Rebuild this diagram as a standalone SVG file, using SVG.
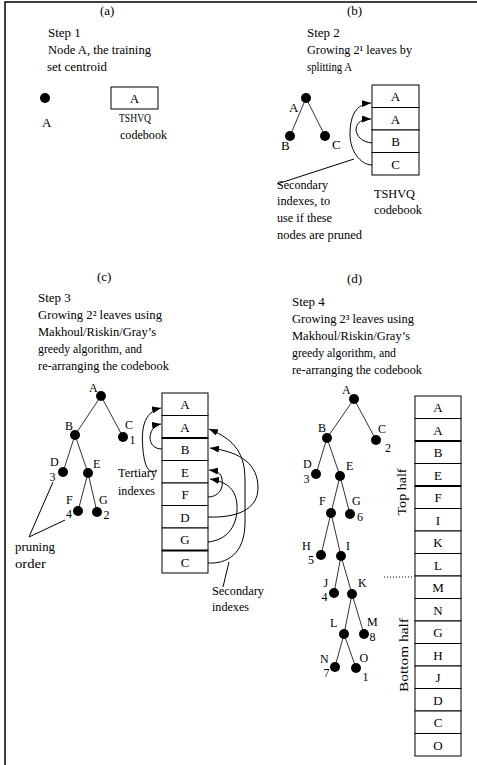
<svg xmlns="http://www.w3.org/2000/svg" width="477" height="765" viewBox="0 0 477 765">
<style>
.t{font-family:"Liberation Serif","Times New Roman",serif;font-size:13px;fill:#000}
.n{font-family:"Liberation Serif","Times New Roman",serif;font-size:12px;fill:#000}
.m{text-anchor:middle}
.e{stroke:#333;stroke-width:1;fill:none}
.d{fill:#000}
.cell{fill:#fff;stroke:#000;stroke-width:1}
.thick{stroke:#000;stroke-width:2.2}
.a{stroke:#000;stroke-width:1;fill:none;marker-end:url(#ah)}
.p{stroke:#000;stroke-width:1;fill:none}
</style>
<defs>
<marker id="ah" markerUnits="userSpaceOnUse" markerWidth="9" markerHeight="7" refX="9" refY="3.5" orient="auto">
<path d="M0,0 L9,3.5 L0,7 z" fill="#000"/>
</marker>
</defs>
<rect width="477" height="765" fill="#fff"/>
<g id="frame"><path d="M5,765 L5,2 L477,2" stroke="#000" stroke-width="1.5" fill="none"/></g>

<!-- (a) -->
<g id="panel-a-text">
<text class="t" x="100" y="15">(a)</text>
<text class="t" x="48" y="37">Step 1</text>
<text class="t" x="48" y="54" textLength="103" lengthAdjust="spacingAndGlyphs">Node A, the training</text>
<text class="t" x="47" y="71" textLength="60" lengthAdjust="spacingAndGlyphs">set centroid</text>
</g>
<g id="a-nodeA"><circle class="d" cx="45" cy="98" r="5"/><text class="t" x="42" y="127">A</text></g>
<g id="a-codebook">
<rect class="cell" x="111" y="87" width="47" height="22"/>
<text class="t m" x="134.5" y="102.5">A</text>
<text class="t" x="119" y="122" textLength="32" lengthAdjust="spacingAndGlyphs">TSHVQ</text>
<text class="t" x="120" y="139" textLength="47" lengthAdjust="spacingAndGlyphs">codebook</text>
</g>

<!-- (b) -->
<g id="panel-b-text">
<text class="t" x="347" y="15">(b)</text>
<text class="t" x="307" y="37">Step 2</text>
<text class="t" x="307" y="54" textLength="105" lengthAdjust="spacingAndGlyphs">Growing 2¹ leaves by</text>
<text class="t" x="307" y="71" textLength="45" lengthAdjust="spacingAndGlyphs">splitting A</text>
<text class="t" x="277" y="189" textLength="51" lengthAdjust="spacingAndGlyphs">Secondary</text>
<text class="t" x="277" y="205" textLength="53" lengthAdjust="spacingAndGlyphs">indexes, to</text>
<text class="t" x="277" y="222" textLength="55" lengthAdjust="spacingAndGlyphs">use if these</text>
<text class="t" x="277" y="239" textLength="85" lengthAdjust="spacingAndGlyphs">nodes are pruned</text>
<text class="t" x="374" y="198" textLength="41" lengthAdjust="spacingAndGlyphs">TSHVQ</text>
<text class="t" x="374" y="214" textLength="48" lengthAdjust="spacingAndGlyphs">codebook</text>
</g>
<g id="b-codebook">
<rect class="cell" x="372" y="85" width="47" height="22.5"/>
<rect class="cell" x="372" y="107.5" width="47" height="22.5"/>
<rect class="cell" x="372" y="130" width="47" height="22.5"/>
<rect class="cell" x="372" y="152.5" width="47" height="22.5"/>
<text class="t m" x="395.5" y="101">A</text>
<text class="t m" x="395.5" y="123.5">A</text>
<text class="t m" x="395.5" y="146">B</text>
<text class="t m" x="395.5" y="168.5">C</text>
</g>

<!-- (c) -->
<g id="panel-c-text">
<text class="t" x="97" y="281">(c)</text>
<text class="t" x="38" y="302">Step 3</text>
<text class="t" x="38" y="319" textLength="124" lengthAdjust="spacingAndGlyphs">Growing 2² leaves using</text>
<text class="t" x="38" y="336" textLength="118" lengthAdjust="spacingAndGlyphs">Makhoul/Riskin/Gray’s</text>
<text class="t" x="38" y="353" textLength="104" lengthAdjust="spacingAndGlyphs">greedy algorithm, and</text>
<text class="t" x="38" y="370" textLength="131" lengthAdjust="spacingAndGlyphs">re-arranging the codebook</text>
<text class="t" x="15" y="551" textLength="40" lengthAdjust="spacingAndGlyphs">pruning</text>
<text class="t" x="15" y="568" textLength="31" lengthAdjust="spacingAndGlyphs">order</text>
<text class="t" x="118" y="477" textLength="39" lengthAdjust="spacingAndGlyphs">Tertiary</text>
<text class="t" x="118" y="495" textLength="37" lengthAdjust="spacingAndGlyphs">indexes</text>
<text class="t" x="212" y="595" textLength="52" lengthAdjust="spacingAndGlyphs">Secondary</text>
<text class="t" x="212" y="611" textLength="37" lengthAdjust="spacingAndGlyphs">indexes</text>
</g>
<g id="c-codebook">
<rect class="cell" x="162" y="393" width="46" height="22.5"/>
<rect class="cell" x="162" y="415.5" width="46" height="22.5"/>
<rect class="cell" x="162" y="438" width="46" height="22.5"/>
<rect class="cell" x="162" y="460.5" width="46" height="22.5"/>
<rect class="cell" x="162" y="483" width="46" height="22.5"/>
<rect class="cell" x="162" y="505.5" width="46" height="22.5"/>
<rect class="cell" x="162" y="528" width="46" height="22.5"/>
<rect class="cell" x="162" y="550.5" width="46" height="22.5"/>
<line class="thick" x1="162" y1="438" x2="208" y2="438"/>
<line class="thick" x1="162" y1="550.5" x2="208" y2="550.5"/>
<text class="t m" x="185" y="409">A</text>
<text class="t m" x="185" y="431.5">A</text>
<text class="t m" x="185" y="454">B</text>
<text class="t m" x="185" y="476.5">E</text>
<text class="t m" x="185" y="499">F</text>
<text class="t m" x="185" y="521.5">D</text>
<text class="t m" x="185" y="544">G</text>
<text class="t m" x="185" y="566.5">C</text>
</g>

<!-- (d) -->
<g id="panel-d-text">
<text class="t" x="347" y="283">(d)</text>
<text class="t" x="292" y="306">Step 4</text>
<text class="t" x="292" y="323" textLength="122" lengthAdjust="spacingAndGlyphs">Growing 2³ leaves using</text>
<text class="t" x="292" y="340" textLength="118" lengthAdjust="spacingAndGlyphs">Makhoul/Riskin/Gray’s</text>
<text class="t" x="292" y="357" textLength="104" lengthAdjust="spacingAndGlyphs">greedy algorithm, and</text>
<text class="t" x="292" y="374" textLength="130" lengthAdjust="spacingAndGlyphs">re-arranging the codebook</text>
<text class="t m" transform="translate(406,492) rotate(-90)" textLength="47" lengthAdjust="spacingAndGlyphs">Top half</text>
<text class="t m" transform="translate(408,655) rotate(-90)" textLength="74" lengthAdjust="spacingAndGlyphs">Bottom half</text>
</g>
<g id="d-codebook">
<rect class="cell" x="415" y="396" width="46" height="22.5"/>
<rect class="cell" x="415" y="418.5" width="46" height="22.5"/>
<rect class="cell" x="415" y="441" width="46" height="22.5"/>
<rect class="cell" x="415" y="463.5" width="46" height="22.5"/>
<rect class="cell" x="415" y="486" width="46" height="22.5"/>
<rect class="cell" x="415" y="508.5" width="46" height="22.5"/>
<rect class="cell" x="415" y="531" width="46" height="22.5"/>
<rect class="cell" x="415" y="553.5" width="46" height="22.5"/>
<rect class="cell" x="415" y="576" width="46" height="22.5"/>
<rect class="cell" x="415" y="598.5" width="46" height="22.5"/>
<rect class="cell" x="415" y="621" width="46" height="22.5"/>
<rect class="cell" x="415" y="643.5" width="46" height="22.5"/>
<rect class="cell" x="415" y="666" width="46" height="22.5"/>
<rect class="cell" x="415" y="688.5" width="46" height="22.5"/>
<rect class="cell" x="415" y="711" width="46" height="22.5"/>
<rect class="cell" x="415" y="733.5" width="46" height="22.5"/>
<line class="thick" x1="415" y1="441" x2="461" y2="441"/>
<line class="thick" x1="415" y1="486" x2="461" y2="486"/>
<text class="t m" x="438" y="412">A</text>
<text class="t m" x="438" y="434.5">A</text>
<text class="t m" x="438" y="457">B</text>
<text class="t m" x="438" y="479.5">E</text>
<text class="t m" x="438" y="502">F</text>
<text class="t m" x="438" y="524.5">I</text>
<text class="t m" x="438" y="547">K</text>
<text class="t m" x="438" y="569.5">L</text>
<text class="t m" x="438" y="592">M</text>
<text class="t m" x="438" y="614.5">N</text>
<text class="t m" x="438" y="637">G</text>
<text class="t m" x="438" y="659.5">H</text>
<text class="t m" x="438" y="682">J</text>
<text class="t m" x="438" y="704.5">D</text>
<text class="t m" x="438" y="727">C</text>
<text class="t m" x="438" y="749.5">O</text>
</g>

<!-- connectors -->
<g id="connectors">
<line class="e" x1="306" y1="98" x2="290" y2="136"/>
<line class="e" x1="306" y1="98" x2="325" y2="136"/>
<line class="e" x1="101" y1="396" x2="75" y2="435"/>
<line class="e" x1="101" y1="396" x2="123" y2="437"/>
<line class="e" x1="75" y1="435" x2="63" y2="472"/>
<line class="e" x1="75" y1="435" x2="88" y2="473"/>
<line class="e" x1="88" y1="473" x2="78" y2="511"/>
<line class="e" x1="88" y1="473" x2="97" y2="512"/>
<line class="e" x1="354" y1="399" x2="327" y2="438"/>
<line class="e" x1="354" y1="399" x2="376" y2="440"/>
<line class="e" x1="327" y1="438" x2="316" y2="474"/>
<line class="e" x1="327" y1="438" x2="340" y2="476"/>
<line class="e" x1="340" y1="476" x2="331" y2="513"/>
<line class="e" x1="340" y1="476" x2="350" y2="514"/>
<line class="e" x1="331" y1="513" x2="321" y2="555"/>
<line class="e" x1="331" y1="513" x2="341" y2="556"/>
<line class="e" x1="341" y1="556" x2="334" y2="593"/>
<line class="e" x1="341" y1="556" x2="352" y2="594"/>
<line class="e" x1="352" y1="594" x2="344" y2="634"/>
<line class="e" x1="352" y1="594" x2="364" y2="634"/>
<line class="e" x1="344" y1="634" x2="335" y2="667"/>
<line class="e" x1="344" y1="634" x2="356" y2="668"/>
<path class="a" d="M372,165 C360,165 350,150 350,135 C350,115 356,104 371,103"/>
<path class="a" d="M372,143 C362,142 356,136 356,129 C357,122 362,119 371,119"/>
<line class="p" x1="277" y1="184" x2="354" y2="159"/>
<path class="a" d="M157,470 C150,474 145,470 143,450 C141,430 143,412 161,408"/>
<path class="a" d="M162,449 C154,449 150,444 150,437 C151,429 155,425 161,424"/>
<path class="a" d="M208,563 C226,564 245,555 245,522 L245,480 C245,455 236,440 209,429"/>
<path class="a" d="M208,517 C236,518 258,510 258,488 C258,465 242,452 210,448"/>
<path class="a" d="M208,497 C218,497 224,489 222,479 C221,473 217,471 209,470"/>
<path class="a" d="M208,542 C228,540 238,525 237,505 C236,490 228,482 210,479"/>
<line class="p" x1="229" y1="562" x2="223" y2="587"/>
<line class="p" x1="53" y1="482" x2="29" y2="537"/>
<line class="p" x1="65" y1="520" x2="29" y2="537"/>
<line x1="384" y1="577" x2="414" y2="577" stroke="#000" stroke-width="1" stroke-dasharray="1,2"/>
</g>

<g id="b-A"><circle class="d" cx="306" cy="98" r="5"/><text class="t" x="289" y="112">A</text></g>
<g id="b-B"><circle class="d" cx="290" cy="136" r="5"/><text class="t" x="281" y="150">B</text></g>
<g id="b-C"><circle class="d" cx="325" cy="136" r="5"/><text class="t" x="332" y="149">C</text></g>

<g id="c-A"><circle class="d" cx="101" cy="396" r="5"/><text class="n" x="89" y="392">A</text></g>
<g id="c-B"><circle class="d" cx="75" cy="435" r="5"/><text class="n" x="65" y="430">B</text></g>
<g id="c-C"><circle class="d" cx="123" cy="437" r="5"/><text class="n" x="125" y="429">C</text><text class="n" x="129.5" y="443.5">1</text></g>
<g id="c-D"><circle class="d" cx="63" cy="472" r="5"/><text class="n" x="50" y="466">D</text><text class="n" x="49.5" y="480.5">3</text></g>
<g id="c-E"><circle class="d" cx="88" cy="473" r="5"/><text class="n" x="93" y="468">E</text></g>
<g id="c-F"><circle class="d" cx="78" cy="511" r="5"/><text class="n" x="66" y="504">F</text><text class="n" x="66" y="518">4</text></g>
<g id="c-G"><circle class="d" cx="97" cy="512" r="5"/><text class="n" x="99" y="504">G</text><text class="n" x="103.5" y="518.5">2</text></g>

<g id="d-A"><circle class="d" cx="354" cy="399" r="5"/><text class="n" x="342" y="394">A</text></g>
<g id="d-B"><circle class="d" cx="327" cy="438" r="5"/><text class="n" x="318" y="432">B</text></g>
<g id="d-C"><circle class="d" cx="376" cy="440" r="5"/><text class="n" x="378" y="433">C</text><text class="n" x="385" y="452">2</text></g>
<g id="d-D"><circle class="d" cx="316" cy="474" r="5"/><text class="n" x="303" y="468">D</text><text class="n" x="303.5" y="482.5">3</text></g>
<g id="d-E"><circle class="d" cx="340" cy="476" r="5"/><text class="n" x="346" y="470">E</text></g>
<g id="d-F"><circle class="d" cx="331" cy="513" r="5"/><text class="n" x="319" y="505">F</text></g>
<g id="d-G"><circle class="d" cx="350" cy="514" r="5"/><text class="n" x="352" y="505">G</text><text class="n" x="357" y="520.5">6</text></g>
<g id="d-H"><circle class="d" cx="321" cy="555" r="5"/><text class="n" x="302" y="550">H</text><text class="n" x="308" y="564">5</text></g>
<g id="d-I"><circle class="d" cx="341" cy="556" r="5"/><text class="n" x="346" y="550">I</text></g>
<g id="d-J"><circle class="d" cx="334" cy="593" r="5"/><text class="n" x="323.5" y="587">J</text><text class="n" x="321.5" y="601">4</text></g>
<g id="d-K"><circle class="d" cx="352" cy="594" r="5"/><text class="n" x="358" y="587">K</text></g>
<g id="d-L"><circle class="d" cx="344" cy="634" r="5"/><text class="n" x="330" y="627">L</text></g>
<g id="d-M"><circle class="d" cx="364" cy="634" r="5"/><text class="n" x="367" y="626">M</text><text class="n" x="369.5" y="641">8</text></g>
<g id="d-N"><circle class="d" cx="335" cy="667" r="5"/><text class="n" x="320" y="663">N</text><text class="n" x="323.5" y="677">7</text></g>
<g id="d-O"><circle class="d" cx="356" cy="668" r="5"/><text class="n" x="359.5" y="662">O</text><text class="n" x="362.5" y="681">1</text></g>
</svg>
